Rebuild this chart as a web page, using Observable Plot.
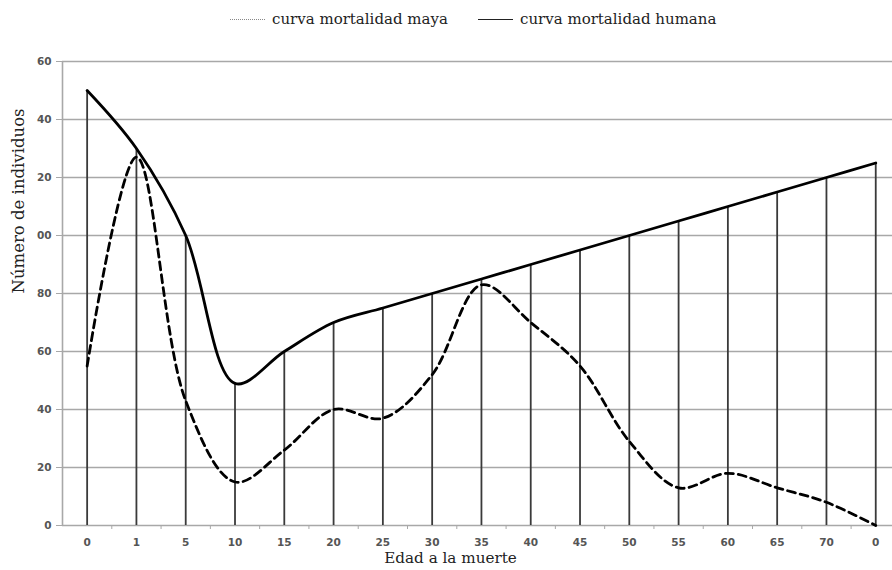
<!DOCTYPE html>
<html>
<head>
<meta charset="utf-8">
<script src="https://cdn.jsdelivr.net/npm/d3@7"></script>
<script src="https://cdn.jsdelivr.net/npm/@observablehq/plot@0.6"></script>
<style>
  html, body { margin: 0; padding: 0; background: #fff; }
  #legend { height: 40px; position: relative; font-family: "DejaVu Serif", serif; font-size: 15px; color: #222; }
  .item { position: absolute; top: 10px; display: flex; align-items: center; }
  .sw { width: 35px; height: 0; margin-right: 7px; }
  svg { display: block; }
</style>
</head>
<body>
<div id="legend">
  <div class="item" style="left:230px"><span class="sw" style="border-top:1px dotted #888"></span>curva mortalidad maya</div>
  <div class="item" style="left:478px"><span class="sw" style="border-top:1.3px solid #222"></span>curva mortalidad humana</div>
</div>
<div id="chart"></div>
<script>
const categories = ["0","1","5","10","15","20","25","30","35","40","45","50","55","60","65","70","0"];
const humana = [150,130,100,49,60,70,75,80,85,90,95,100,105,110,115,120,125];
const maya = [55,127,43,15,26,40,37,52,83,70,55,29,13,18,13,8,0];
const yTicks = [0,20,40,60,80,100,120,140,160];
const yLabels = ["0","20","40","60","80","00","20","40","60"];

const idx = categories.map((_, i) => i);
const hum = idx.map(i => ({i, v: humana[i]}));
const may = idx.map(i => ({i, v: maya[i]}));
const mids = idx.slice(0, -1).map(i => i + 0.5);

const chart = Plot.plot({
  width: 892,
  height: 530,
  marginLeft: 62,
  marginRight: 0,
  marginTop: 21,
  marginBottom: 45,
  x: {type: "linear", domain: [-0.5, 16.34]},
  y: {domain: [0, 160]},
  style: {fontFamily: "DejaVu Sans", fontSize: "10.5px", color: "#555"},
  marks: [
    Plot.ruleY(yTicks, {stroke: "#a8a8a8", strokeWidth: 1.6}),
    Plot.ruleX([-0.5], {stroke: "#a8a8a8", strokeWidth: 1.6}),
    Plot.axisY({ticks: yTicks, tickFormat: (d) => yLabels[yTicks.indexOf(d)], tickSize: 6, tickPadding: 5, stroke: "#a8a8a8", label: null, fill: "#555", fontWeight: "bold"}),
    Plot.axisX({ticks: idx, tickFormat: d => categories[d], tickSize: 0, tickPadding: 13, label: null, fill: "#555", fontWeight: "bold"}),
    Plot.axisX({ticks: mids, tickFormat: () => "", tickSize: 4, stroke: "#a8a8a8", label: null}),
    Plot.ruleX(hum, {x: "i", y1: 0, y2: "v", stroke: "#3a3a3a", strokeWidth: 1.8}),
    Plot.line(hum, {x: "i", y: "v", curve: "catmull-rom", stroke: "#000", strokeWidth: 2.8}),
    Plot.line(may, {x: "i", y: "v", curve: "catmull-rom", stroke: "#000", strokeWidth: 2.8, strokeDasharray: "8,5"}),
    Plot.text(["Número de individuos"], {frameAnchor: "left", dx: -44, rotate: -90, fontFamily: "DejaVu Serif", fontSize: 16.5, fill: "#222"}),
    Plot.text(["Edad a la muerte"], {frameAnchor: "bottom", dy: 37, dx: -27, fontFamily: "DejaVu Serif", fontSize: 15.2, fill: "#222"})
  ]
});
document.getElementById("chart").appendChild(chart);
</script>
</body>
</html>
